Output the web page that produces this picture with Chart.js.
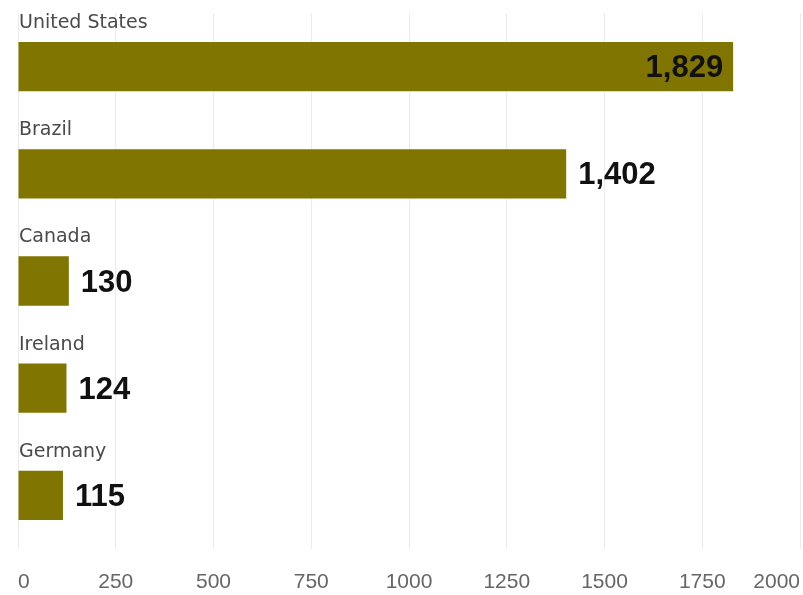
<!DOCTYPE html>
<html lang="en">
  <head>
    <meta charset="UTF-8" />
    <title>bar</title>
    <script src="https://cdn.jsdelivr.net/npm/chart.js@4.4.1/dist/chart.umd.min.js"></script>
    <style>
      html, body { margin: 0; padding: 0; background: #fff; }
      .chart-view { width: 803px; height: 595px; }
    </style>
  </head>
  <body>
    <div class="chart-view">
      <canvas id="chart"></canvas>
    </div>

    <script>
      //data
      const countries = ['United States', 'Brazil', 'Canada', 'Ireland', 'Germany'];
      const values = [1829, 1402, 130, 124, 115];
      const xTicks = [0, 250, 500, 750, 1000, 1250, 1500, 1750, 2000];

      const BAR_COLOR = '#807500';

      // category names above the bars, values at the bar ends
      const barLabels = {
        id: 'barLabels',
        afterDatasetsDraw(chart) {
          const ctx = chart.ctx;
          const meta = chart.getDatasetMeta(0);
          const area = chart.chartArea;
          ctx.save();
          meta.data.forEach(function (bar, i) {
            const top = bar.y - bar.height / 2;
            ctx.font = '19px "DejaVu Sans"';
            ctx.fillStyle = '#4a4a4a';
            ctx.textAlign = 'left';
            ctx.textBaseline = 'alphabetic';
            ctx.fillText(chart.data.labels[i], area.left + 1, top - 14);

            const text = values[i].toLocaleString('en-US');
            ctx.font = 'bold 31px "Liberation Sans"';
            ctx.fillStyle = '#111';
            ctx.textBaseline = 'middle';
            const w = ctx.measureText(text).width;
            if (bar.x + 12 + w > area.right - 20) {
              ctx.textAlign = 'right';
              ctx.fillText(text, bar.x - 10, bar.y + 2);
            } else {
              ctx.textAlign = 'left';
              ctx.fillText(text, bar.x + 12, bar.y + 2);
            }
          });
          ctx.restore();
        }
      };

      //config
      const config = {
        type: 'bar',
        data: {
          labels: countries,
          datasets: [
            {
              data: values,
              backgroundColor: BAR_COLOR,
              borderWidth: 0,
              barPercentage: 0.46,
              categoryPercentage: 1
            }
          ]
        },
        options: {
          indexAxis: 'y',
          responsive: true,
          maintainAspectRatio: false,
          animation: false,
          layout: {
            padding: { left: 18, right: 3, top: 13, bottom: 0 }
          },
          plugins: {
            legend: { display: false },
            tooltip: { enabled: false }
          },
          scales: {
            x: {
              min: 0,
              max: 2000,
              afterBuildTicks(scale) {
                scale.ticks = xTicks.map(function (v) { return { value: v }; });
              },
              afterFit(scale) {
                scale.height = 46;
                scale.paddingLeft = 0;
                scale.paddingRight = 0;
              },
              border: { display: false },
              grid: {
                color: '#ebebeb',
                lineWidth: 1,
                drawTicks: false
              },
              ticks: {
                align: 'inner',
                padding: 21,
                color: '#666',
                font: { family: '"Liberation Sans"', size: 21 },
                callback: function (v) { return String(v); }
              }
            },
            y: {
              display: false,
              grid: { display: false }
            }
          }
        },
        plugins: [barLabels]
      };

      //init
      const ctx = document.getElementById('chart');
      const chart = new Chart(ctx, config);
    </script>
  </body>
</html>
